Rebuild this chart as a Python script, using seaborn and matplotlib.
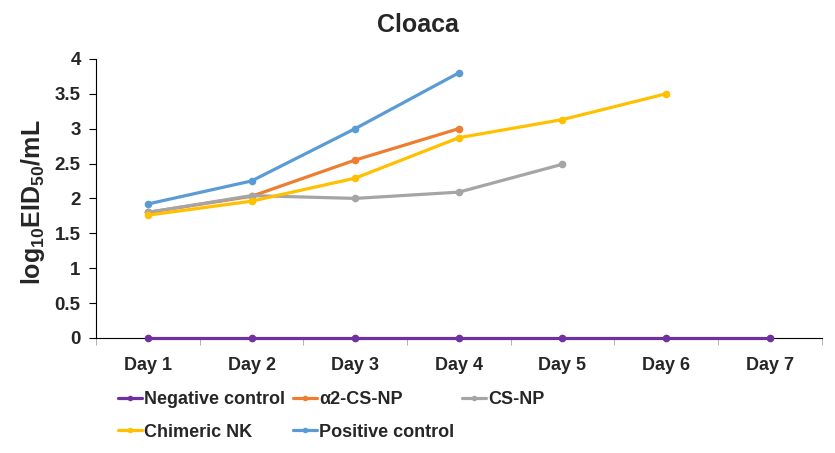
import numpy as np
import pandas as pd
import matplotlib
matplotlib.use('Agg')
import matplotlib.pyplot as plt
import seaborn as sns

sns.set_style('ticks')
plt.rcParams['font.family'] = ['Liberation Sans', 'DejaVu Sans']
plt.rcParams['font.weight'] = 'bold'
plt.rcParams['mathtext.fontset'] = 'custom'
plt.rcParams['mathtext.rm'] = 'Liberation Sans:bold'

# data (log10 EID50/mL)
days = ['Day 1', 'Day 2', 'Day 3', 'Day 4', 'Day 5', 'Day 6', 'Day 7']
negative_control = [0, 0, 0, 0, 0, 0, 0]
a2_cs_np = [1.80, 2.03, 2.55, 3.00]
cs_np = [1.80, 2.04, 2.00, 2.09, 2.49]
chimeric_nk = [1.76, 1.96, 2.29, 2.87, 3.13, 3.50]
positive_control = [1.92, 2.25, 3.00, 3.80]

series = {
    'Negative control': negative_control,
    'α2-CS-NP': a2_cs_np,
    'CS-NP': cs_np,
    'Chimeric NK': chimeric_nk,
    'Positive control': positive_control,
}
colors = {
    'Negative control': '#7030A0',
    'α2-CS-NP': '#ED7D31',
    'CS-NP': '#A5A5A5',
    'Chimeric NK': '#FFC000',
    'Positive control': '#5B9BD5',
}

rows = []
for name, vals in series.items():
    for i, v in enumerate(vals):
        rows.append({'day': i, 'value': v, 'group': name})
df = pd.DataFrame(rows)

fig = plt.figure(figsize=(8.35, 4.53), dpi=100)
ax = fig.add_axes([0.115, 0.254, 0.869, 0.616])

sns.lineplot(data=df, x='day', y='value', hue='group', hue_order=list(series.keys()),
             palette=colors, marker='o', markersize=5.5, markeredgewidth=0,
             linewidth=2.3, ax=ax, legend=False)
for line in ax.lines:
    line.set_clip_on(False)
    line.set_zorder(3)

ax.set_xlim(-0.5, 6.5)
ax.set_ylim(0, 4)
ax.set_xticks(range(len(days)))
ax.set_xticklabels(days, fontsize=13, fontweight='bold')
ax.set_xticks(np.arange(-0.5, 7, 1), minor=True)
ax.tick_params(axis='x', which='major', length=0, pad=14)
ax.tick_params(axis='x', which='minor', length=5, direction='out', color='#a6a6a6')
ax.set_yticks(np.arange(0, 4.01, 0.5))
ax.set_yticklabels(['0', '0.5', '1', '1.5', '2', '2.5', '3', '3.5', '4'],
                   fontsize=13.5, fontweight='bold')
ax.tick_params(axis='y', length=5, direction='out', color='black', pad=6)
ax.set_xlabel('')
ax.set_ylabel(r'$\mathrm{log_{10}EID_{50}/mL}$', fontsize=18)
ax.yaxis.set_label_coords(-0.068, 0.485)
fig.text(0.5, 0.945, 'Cloaca', ha='center', va='center', fontsize=18, fontweight='bold')

for s in ['top', 'right']:
    ax.spines[s].set_visible(False)
ax.spines['left'].set_color('black')
ax.spines['bottom'].set_color('black')
ax.spines['left'].set_linewidth(0.8)
ax.spines['bottom'].set_linewidth(0.8)

# legend, row-major like the original (matplotlib fills columns first)
order = ['Negative control', 'Chimeric NK', 'α2-CS-NP', 'Positive control', 'CS-NP']
handles = [plt.Line2D([], [], color=colors[n], marker='o', markersize=4,
                      markeredgewidth=0, linewidth=2.3) for n in order]
fig.legend(handles, order, loc='upper left', bbox_to_anchor=(0.1413, 0.136),
           ncol=3, frameon=False, fontsize=13, handlelength=1.33, handletextpad=0.11,
           columnspacing=0.45, labelspacing=0.85, borderaxespad=0, borderpad=0)

fig.savefig('out.png', dpi=100)
